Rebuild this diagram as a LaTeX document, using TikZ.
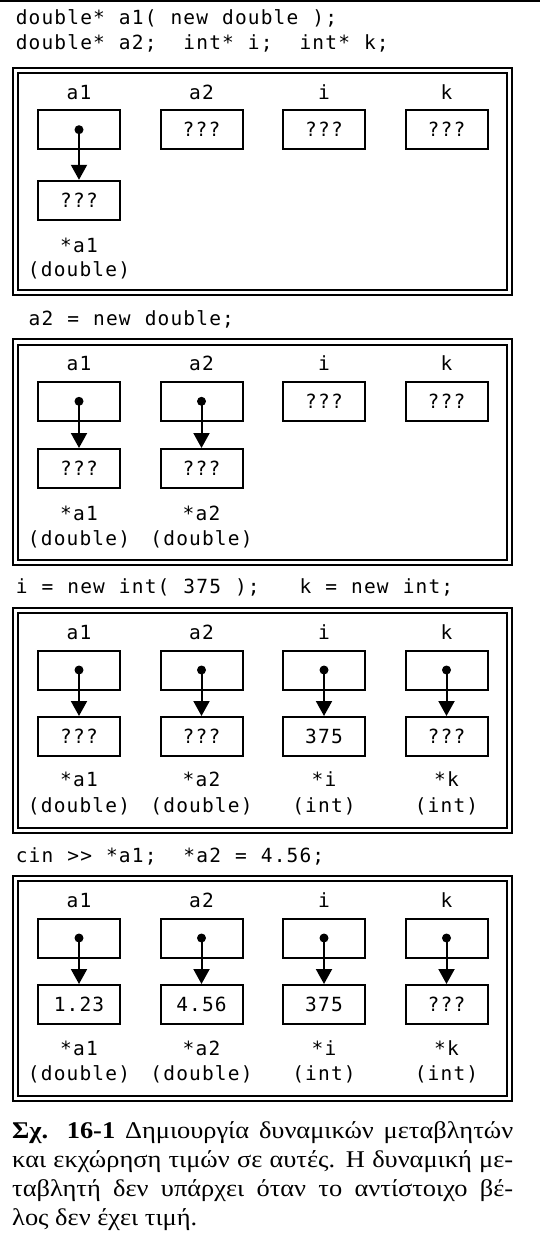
\documentclass[tikz,border=0pt]{standalone}
\usepackage{fontspec}
\setmainfont{Liberation Serif}[FakeStretch=1.1]
\newfontfamily\codefont{DejaVu Sans Mono}
\usetikzlibrary{arrows.meta}
\makeatletter
\newcommand\mono[1]{\mono@loop#1\mono@end}
\def\mono@end{\mono@end}
\def\mono@loop#1{\ifx#1\mono@end\else\makebox[12.9pt]{#1}\expandafter\mono@loop\fi}
\makeatother
\newcommand\lowY{130}
\newcommand\starY{181}
\newcommand\typeY{206}
\newcommand\PtrCol[6]{%
  \node[lbl] (#1lab) at (#2,31.5) {\mono{#3}};
  \node[cell] (#1p) at (#2,62) {};
  \node[cell] (#1v) at (#2,\lowY) {\mono{#4}};
  \fill (#1p.center) circle (4.5pt);
  \draw[ptr] (#1p.center) -- (#1v.north);
  \node[lbl] (#1s) at (#2,\starY) {\mono{#5}};
  \node[lbl] (#1t) at (#2,\typeY) {\mono{#6}};}
\newcommand\NullCol[3]{%
  \node[lbl] (#1lab) at (#2,31.5) {\mono{#3}};
  \node[cell] (#1p) at (#2,62) {\mono{???}};}
\newcommand\PanelFrame[1]{%
  \draw[frameline] (13.3,0) rectangle (512.3,#1);
  \draw[frameline] (18.3,5.3) rectangle (507.3,#1-5);}
\begin{document}
\begin{tikzpicture}[x=1pt,y=-1pt,
  codetxt/.style={font=\codefont\fontsize{19.5}{24}\selectfont, anchor=base west, inner sep=0pt},
  lbl/.style={font=\codefont\fontsize{19.5}{24}\selectfont, anchor=base, inner sep=0pt},
  cell/.style={draw, line width=2pt, minimum width=82pt, minimum height=39pt, inner sep=0pt,
    font=\codefont\fontsize{19.5}{24}\selectfont},
  ptr/.style={-{Triangle[width=16pt,length=15pt]}, line width=2pt},
  frameline/.style={line width=2pt},
  captxt/.style={font=\fontsize{24}{29.3}\selectfont, anchor=base west, inner sep=0pt}]
\useasboundingbox (0,0) rectangle (540,1236);
\draw[line width=2pt] (0,1) -- (540,1);
% code lines
\node[codetxt] (c1) at (15,25) {\mono{double*~a1(~new~double~);}};
\node[codetxt] (c2) at (15,50) {\mono{double*~a2;~~int*~i;~~int*~k;}};
\node[codetxt] (c3) at (15,325) {\mono{~a2~=~new~double;}};
\node[codetxt] (c4) at (15,593) {\mono{i~=~new~int(~375~);~~~k~=~new~int;}};
\node[codetxt] (c5) at (15,862) {\mono{cin~>>~*a1;~~*a2~=~4.56;}};
% panel 1
\begin{scope}[shift={(0,67.7)}]
  \renewcommand\lowY{132.6}\renewcommand\starY{184.3}\renewcommand\typeY{209}
  \PanelFrame{227.3}
  \PtrCol{pa}{79}{a1}{???}{*a1}{(double)}
  \NullCol{pb}{201.5}{a2}
  \NullCol{pc}{324}{i}
  \NullCol{pd}{446.5}{k}
\end{scope}
% panel 2
\begin{scope}[shift={(0,339.3)}]
  \renewcommand\lowY{129.2}\renewcommand\starY{180.7}\renewcommand\typeY{205.7}
  \PanelFrame{225.7}
  \PtrCol{qa}{79}{a1}{???}{*a1}{(double)}
  \PtrCol{qb}{201.5}{a2}{???}{*a2}{(double)}
  \NullCol{qc}{324}{i}
  \NullCol{qd}{446.5}{k}
\end{scope}
% panel 3
\begin{scope}[shift={(0,608)}]
  \renewcommand\lowY{128.5}\renewcommand\starY{178.7}\renewcommand\typeY{204}
  \PanelFrame{225}
  \PtrCol{ra}{79}{a1}{???}{*a1}{(double)}
  \PtrCol{rb}{201.5}{a2}{???}{*a2}{(double)}
  \PtrCol{rc}{324}{i}{375}{*i}{(int)}
  \PtrCol{rd}{446.5}{k}{???}{*k}{(int)}
\end{scope}
% panel 4
\begin{scope}[shift={(0,876)}]
  \renewcommand\lowY{128.5}\renewcommand\starY{179}\renewcommand\typeY{204}
  \PanelFrame{225}
  \PtrCol{sa}{79}{a1}{1.23}{*a1}{(double)}
  \PtrCol{sb}{201.5}{a2}{4.56}{*a2}{(double)}
  \PtrCol{sc}{324}{i}{375}{*i}{(int)}
  \PtrCol{sd}{446.5}{k}{???}{*k}{(int)}
\end{scope}
% caption
\node[captxt] (cap) at (12,1138) {\parbox[t]{501pt}{\hyphenpenalty=10000\baselineskip=29.3pt\textbf{Σχ. 16-1} Δημιουργία δυναμικών μεταβλητών\linebreak και εκχώρηση τιμών σε αυτές. Η δυναμική με-\linebreak ταβλητή δεν υπάρχει όταν το αντίστοιχο βέ-\linebreak λος δεν έχει τιμή.}};
\end{tikzpicture}
\end{document}
